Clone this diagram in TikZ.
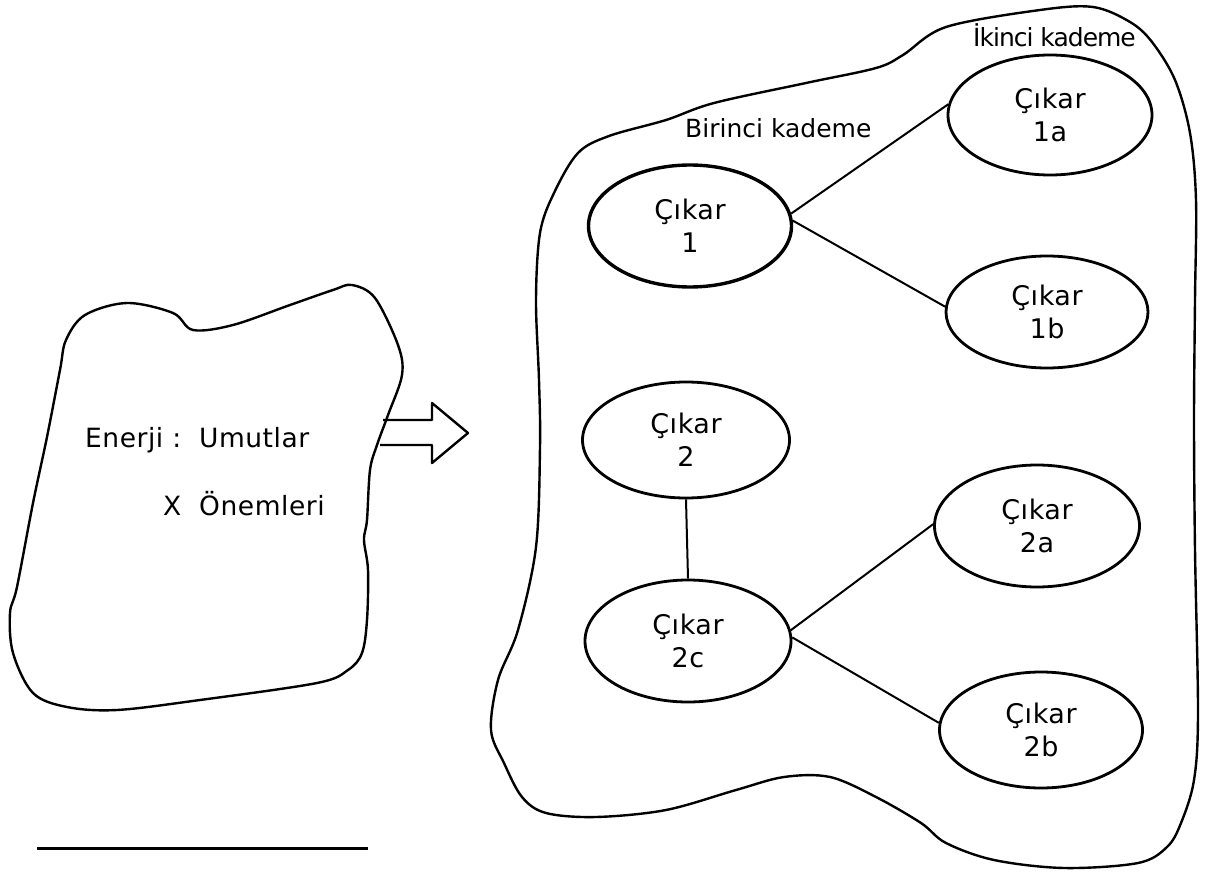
\documentclass[tikz,border=0pt]{standalone}
\usepackage{fontspec}
\setmainfont{DejaVu Sans}
\usetikzlibrary{shapes.geometric}
\begin{document}
\begin{tikzpicture}[x=1pt,y=-1pt,
  cik/.style={draw, ellipse, line width=2.8pt, inner sep=0pt, align=center,
    font=\fontsize{27}{33}\selectfont\addfontfeature{LetterSpace=2}},
  blob/.style={line width=2.4pt, line join=round},
  conn/.style={line width=2pt},
  lbl/.style={inner sep=0pt, font=\fontsize{25}{30}\selectfont},
  big/.style={inner sep=0pt, font=\fontsize{26.5}{32}\selectfont\addfontfeature{LetterSpace=2}}]
\useasboundingbox (0,0) rectangle (1213,872);
\fill[white] (0,0) rectangle (1213,872);

% left blob
\draw[blob] plot[smooth cycle, tension=0.55] coordinates {
 (60,370) (66,340) (85,315) (127,303) (173,313) (193,330) (233,325) (290,305)
 (333,290) (352,285) (375,298) (398,345) (402,375) (388,415) (377,445) (370,470)
 (367,520) (364,540) (368,570) (367,620) (362,653) (348,670) (317,683) (200,700)
 (117,710) (67,707) (33,693) (13,653) (10,613) (17,587) (33,503) (47,437)};

\node[big, anchor=base west] (en) at (85,447) {Enerji :\ \ Umutlar};
\node[big, anchor=base west] (on) at (163,515) {X\ \ Önemleri};

% block arrow
\coordinate (a1) at (383,420);
\coordinate (a2) at (380,445);
\draw[blob] (a1) -- (432,420) -- (432,403) -- (468,433) -- (432,463) -- (432,445) -- (a2);

% right blob
\draw[blob] plot[smooth cycle, tension=0.55] coordinates {
 (1093,7) (1130,22) (1152,42) (1175,80) (1190,133) (1196,200) (1195,300) (1194,420)
 (1195,550) (1198,713) (1194,780) (1181,823) (1167,847) (1138,863) (1064,868) (994,860)
 (946,843) (921,823) (876,797) (830,777) (784,777) (736,790) (666,810) (596,817)
 (546,813) (522,797) (504,763) (491,730) (498,680) (518,630) (536,547) (540,447)
 (539,380) (536,300) (540,233) (554,193) (578,153) (609,136) (666,120) (714,103)
 (806,83) (876,68) (903,55) (946,27) (1040,10)};

\node[lbl, anchor=base west] (bk) at (685,138) {Birinci kademe};
\node[lbl, anchor=base west, font=\fontsize{25}{30}\selectfont\addfontfeature{LetterSpace=-4}] (ik) at (973,47) {İkinci kademe};

\node[cik, line width=3.4pt, minimum width=203pt, minimum height=122pt] (c1) at (690,226) {Çıkar\\1};
\node[cik, minimum width=204pt, minimum height=120pt] (c1a) at (1050,115) {Çıkar\\1a};
\node[cik, minimum width=202pt, minimum height=112pt] (c1b) at (1047,312) {Çıkar\\1b};
\node[cik, minimum width=207pt, minimum height=116pt] (c2) at (686,440) {Çıkar\\2};
\node[cik, minimum width=206pt, minimum height=122pt] (c2c) at (688,641) {Çıkar\\2c};
\node[cik, minimum width=205pt, minimum height=122pt] (c2a) at (1037,526) {Çıkar\\2a};
\node[cik, minimum width=203pt, minimum height=116pt] (c2b) at (1041,730) {Çıkar\\2b};

\draw[conn] (c1.7) -- (c1a.174);
\draw[conn] (c1.3) -- (c1b.177);
\draw[conn] (c2.south) -- (c2c.north);
\draw[conn] (c2c.6) -- (c2a.179);
\draw[conn] (c2c.2) -- (c2b.176);

% bottom rule
\coordinate (r1) at (37,848);
\coordinate (r2) at (368,848);
\draw[line width=3pt] (r1) -- (r2);
\end{tikzpicture}
\end{document}
